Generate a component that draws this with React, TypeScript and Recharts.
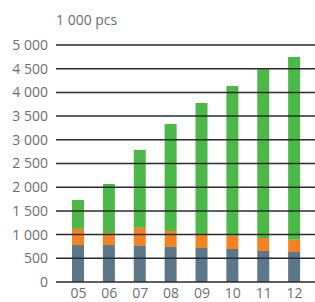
import { BarChart, Bar, XAxis, YAxis, ReferenceLine } from 'recharts'

const FONT = "'Open Sans', 'Noto Sans', sans-serif"

const years = ['05', '06', '07', '08', '09', '10', '11', '12']
const blue = [780, 780, 760, 738, 717, 696, 654, 633]
const orange = [340, 254, 386, 338, 296, 281, 274, 260]
const green = [610, 1034, 1640, 2257, 2763, 3158, 3559, 3854]
const yTicks = [0, 500, 1000, 1500, 2000, 2500, 3000, 3500, 4000, 4500, 5000]

const data = years.map((y, i) => ({ year: y, blue: blue[i], orange: orange[i], green: green[i] }))

const fmt = (v: number) => (v >= 1000 ? `${Math.floor(v / 1000)} ${String(v % 1000).padStart(3, '0')}` : String(v))

type TickProps = { x?: number; y?: number; payload?: { value: string } }
function yearTick(props: TickProps) {
  const x = Number(props.x ?? 0), y = Number(props.y ?? 0)
  return (
    <text x={x} y={y + 13.5} textAnchor="middle" fill="#6d6e71" fontSize={14} fontFamily={FONT}>
      {props.payload?.value}
    </text>
  )
}

export default function App() {
  return (
    <div style={{ position: 'absolute', left: 0, top: 0, width: 315, height: 302, background: '#fff', fontFamily: FONT }}>
      <div style={{ position: 'absolute', left: 56, top: 11, fontSize: 14, lineHeight: '18px', color: '#6d6e71' }}>1 000 pcs</div>
      <BarChart width={315} height={302} data={data} barSize={12} margin={{ top: 45, right: 0, bottom: 0, left: 0 }}>
        <XAxis
          dataKey="year"
          padding={{ left: 7, right: 5 }}
          axisLine={false}
          tickLine={false}
          tickSize={0}
          height={20}
          tick={yearTick}
        />
        <YAxis
          domain={[0, 5000]}
          ticks={yTicks}
          tickFormatter={fmt}
          axisLine={false}
          tickLine={false}
          width={56}
          tick={{ fill: '#6d6e71', fontSize: 14, fontFamily: FONT }}
        />
        <Bar dataKey="blue" stackId="a" fill="#5b7789" isAnimationActive={false} />
        <Bar dataKey="orange" stackId="a" fill="#f58220" isAnimationActive={false} />
        <Bar dataKey="green" stackId="a" fill="#4cb848" isAnimationActive={false} />
        {yTicks.map(t => (
          <ReferenceLine key={t} y={t} stroke="#2b2b2b" strokeWidth={1.5} />
        ))}
      </BarChart>
    </div>
  )
}
